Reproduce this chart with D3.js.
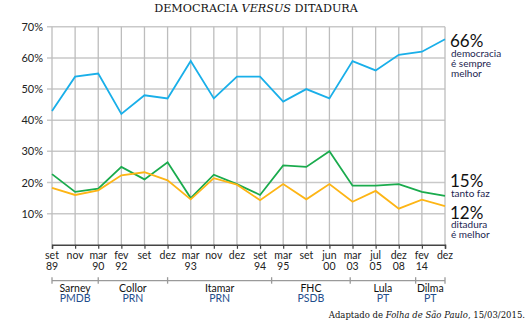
<!DOCTYPE html>
<html>
<head>
<meta charset="utf-8">
<script src="https://cdn.jsdelivr.net/npm/d3@7"></script>
<style>
html,body{margin:0;padding:0;background:#fff;}
svg{display:block;}
</style>
</head>
<body>
<svg id="chart" width="528" height="334"></svg>
<script>
// ---- data ----
const months = ["set","nov","mar","fev","set","dez","mar","nov","dez","set","mar","set","jun","mar","jul","dez","fev","dez"];
const years  = ["89","","90","92","","","93","","","94","95","","00","03","05","08","14",""];
const democracia = [43,54,55,42,48,47,59,47,54,54,46,50,47,59,56,61,62,66];
const tantoFaz   = [22.7,17,18,25,21,26.5,15,22.5,19.5,16,25.5,25,30,19,19,19.5,17,15.7];
const ditadura   = [18.3,16,17.5,22.3,23.3,20.7,14.6,21.4,19.3,14.3,19.5,14.6,19.5,13.8,17.3,11.6,14.5,12.4];
const yTicks = [10,20,30,40,50,60,70];
const presidents = ["Sarney","Collor","Itamar","FHC","Lula","Dilma"];
const parties    = ["PMDB","PRN","PRN","PSDB","PT","PT"];
const termBounds = [0,2,5,9.5,12.9,15.73,17]; // in survey-index units
const series = [
  {values: democracia, color: "#19afe9", big: "66%", lines: ["democracia","é sempre","melhor"]},
  {values: tantoFaz,   color: "#1aab4d", big: "15%", lines: ["tanto faz"]},
  {values: ditadura,   color: "#fdb515", big: "12%", lines: ["ditadura","é melhor"]}
];

// ---- layout ----
const svg = d3.select("#chart");
const x = d3.scaleLinear().domain([0, months.length - 1]).range([52, 445]);
const y = d3.scaleLinear().domain([0, 70]).range([244.8, 26.8]);
const sans = "Lato, 'Open Sans', sans-serif";
const serif = "'DejaVu Serif', 'Liberation Serif', serif";

// title
svg.append("text").attr("x", 256).attr("y", 12).attr("text-anchor", "middle")
  .attr("font-family", serif).attr("font-size", 11.2).attr("fill", "#111")
  .html('DEMOCRACIA <tspan font-style="italic">VERSUS</tspan> DITADURA');

// horizontal grid
svg.append("g").selectAll("line").data(yTicks).join("line")
  .attr("x1", 47).attr("x2", 445)
  .attr("y1", d => y(d)).attr("y2", d => y(d))
  .attr("stroke", "#c9c9c9").attr("stroke-width", 1.5);

// vertical grid
svg.append("g").selectAll("line").data(d3.range(months.length)).join("line")
  .attr("x1", d => x(d)).attr("x2", d => x(d))
  .attr("y1", y(70)).attr("y2", y(0))
  .attr("stroke", "#bdbdbd").attr("stroke-width", 1.3);

// y labels
svg.append("g").selectAll("text").data(yTicks).join("text")
  .attr("x", 43).attr("y", d => y(d) + 4).attr("text-anchor", "end")
  .attr("font-family", sans).attr("font-size", 11).attr("fill", "#222")
  .text(d => d + "%");

// x axis
const xAxis = d3.axisBottom(x).tickValues(d3.range(months.length))
  .tickSize(4).tickFormat("");
const gx = svg.append("g").attr("transform", `translate(0,${y(0)})`).call(xAxis);
gx.select(".domain").attr("stroke", "#444").attr("stroke-width", 1.5);
gx.selectAll(".tick line").attr("stroke", "#444").attr("stroke-width", 1.2);

svg.append("g").selectAll("text").data(months).join("text")
  .attr("x", (d, i) => x(i)).attr("y", 258.5).attr("text-anchor", "middle")
  .attr("font-family", sans).attr("font-size", 10.5).attr("fill", "#222").text(d => d);
svg.append("g").selectAll("text").data(years).join("text")
  .attr("x", (d, i) => x(i)).attr("y", 269.5).attr("text-anchor", "middle")
  .attr("font-family", sans).attr("font-size", 10.5).attr("fill", "#222").text(d => d);

// president band
const bandY = 280.7;
svg.append("line").attr("x1", x(termBounds[0])).attr("x2", x(termBounds[termBounds.length - 1]))
  .attr("y1", bandY).attr("y2", bandY).attr("stroke", "#9a9a9a").attr("stroke-width", 1.3);
svg.append("g").selectAll("line").data(termBounds).join("line")
  .attr("x1", d => x(d)).attr("x2", d => x(d))
  .attr("y1", bandY - 3.5).attr("y2", bandY + 3)
  .attr("stroke", "#9a9a9a").attr("stroke-width", 1.3);
svg.append("g").selectAll("text").data(presidents).join("text")
  .attr("x", (d, i) => (x(termBounds[i]) + x(termBounds[i + 1])) / 2).attr("y", 291.5)
  .attr("text-anchor", "middle").attr("font-family", sans).attr("font-size", 10.5)
  .attr("fill", "#111").text(d => d);
svg.append("g").selectAll("text").data(parties).join("text")
  .attr("x", (d, i) => (x(termBounds[i]) + x(termBounds[i + 1])) / 2).attr("y", 301.5)
  .attr("text-anchor", "middle").attr("font-family", sans).attr("font-size", 10.5)
  .attr("fill", "#1f4e8c").text(d => d);

// lines
const line = d3.line().x((d, i) => x(i)).y(d => y(d));
series.forEach(s => {
  svg.append("path").datum(s.values).attr("d", line)
    .attr("fill", "none").attr("stroke", s.color).attr("stroke-width", 1.8)
    .attr("stroke-linejoin", "miter");
});

// right labels
const labelPos = [
  {bigY: 46.5, smallY: [56.7, 66.7, 76.7]},
  {bigY: 187, smallY: [197.3]},
  {bigY: 219, smallY: [228.3, 238.3]}
];
series.forEach((s, k) => {
  svg.append("text").attr("x", 450).attr("y", labelPos[k].bigY)
    .attr("font-family", sans).attr("font-size", 17).attr("fill", "#111").text(s.big);
  s.lines.forEach((t, j) => {
    svg.append("text").attr("x", 451).attr("y", labelPos[k].smallY[j])
      .attr("font-family", sans).attr("font-size", 10).attr("fill", "#1c2550").text(t);
  });
});

// source
svg.append("text").attr("x", 525).attr("y", 318).attr("text-anchor", "end")
  .attr("font-family", serif).attr("font-size", 8.5).attr("fill", "#111")
  .html('Adaptado de <tspan font-style="italic">Folha de São Paulo</tspan>, 15/03/2015.');
</script>
</body>
</html>
